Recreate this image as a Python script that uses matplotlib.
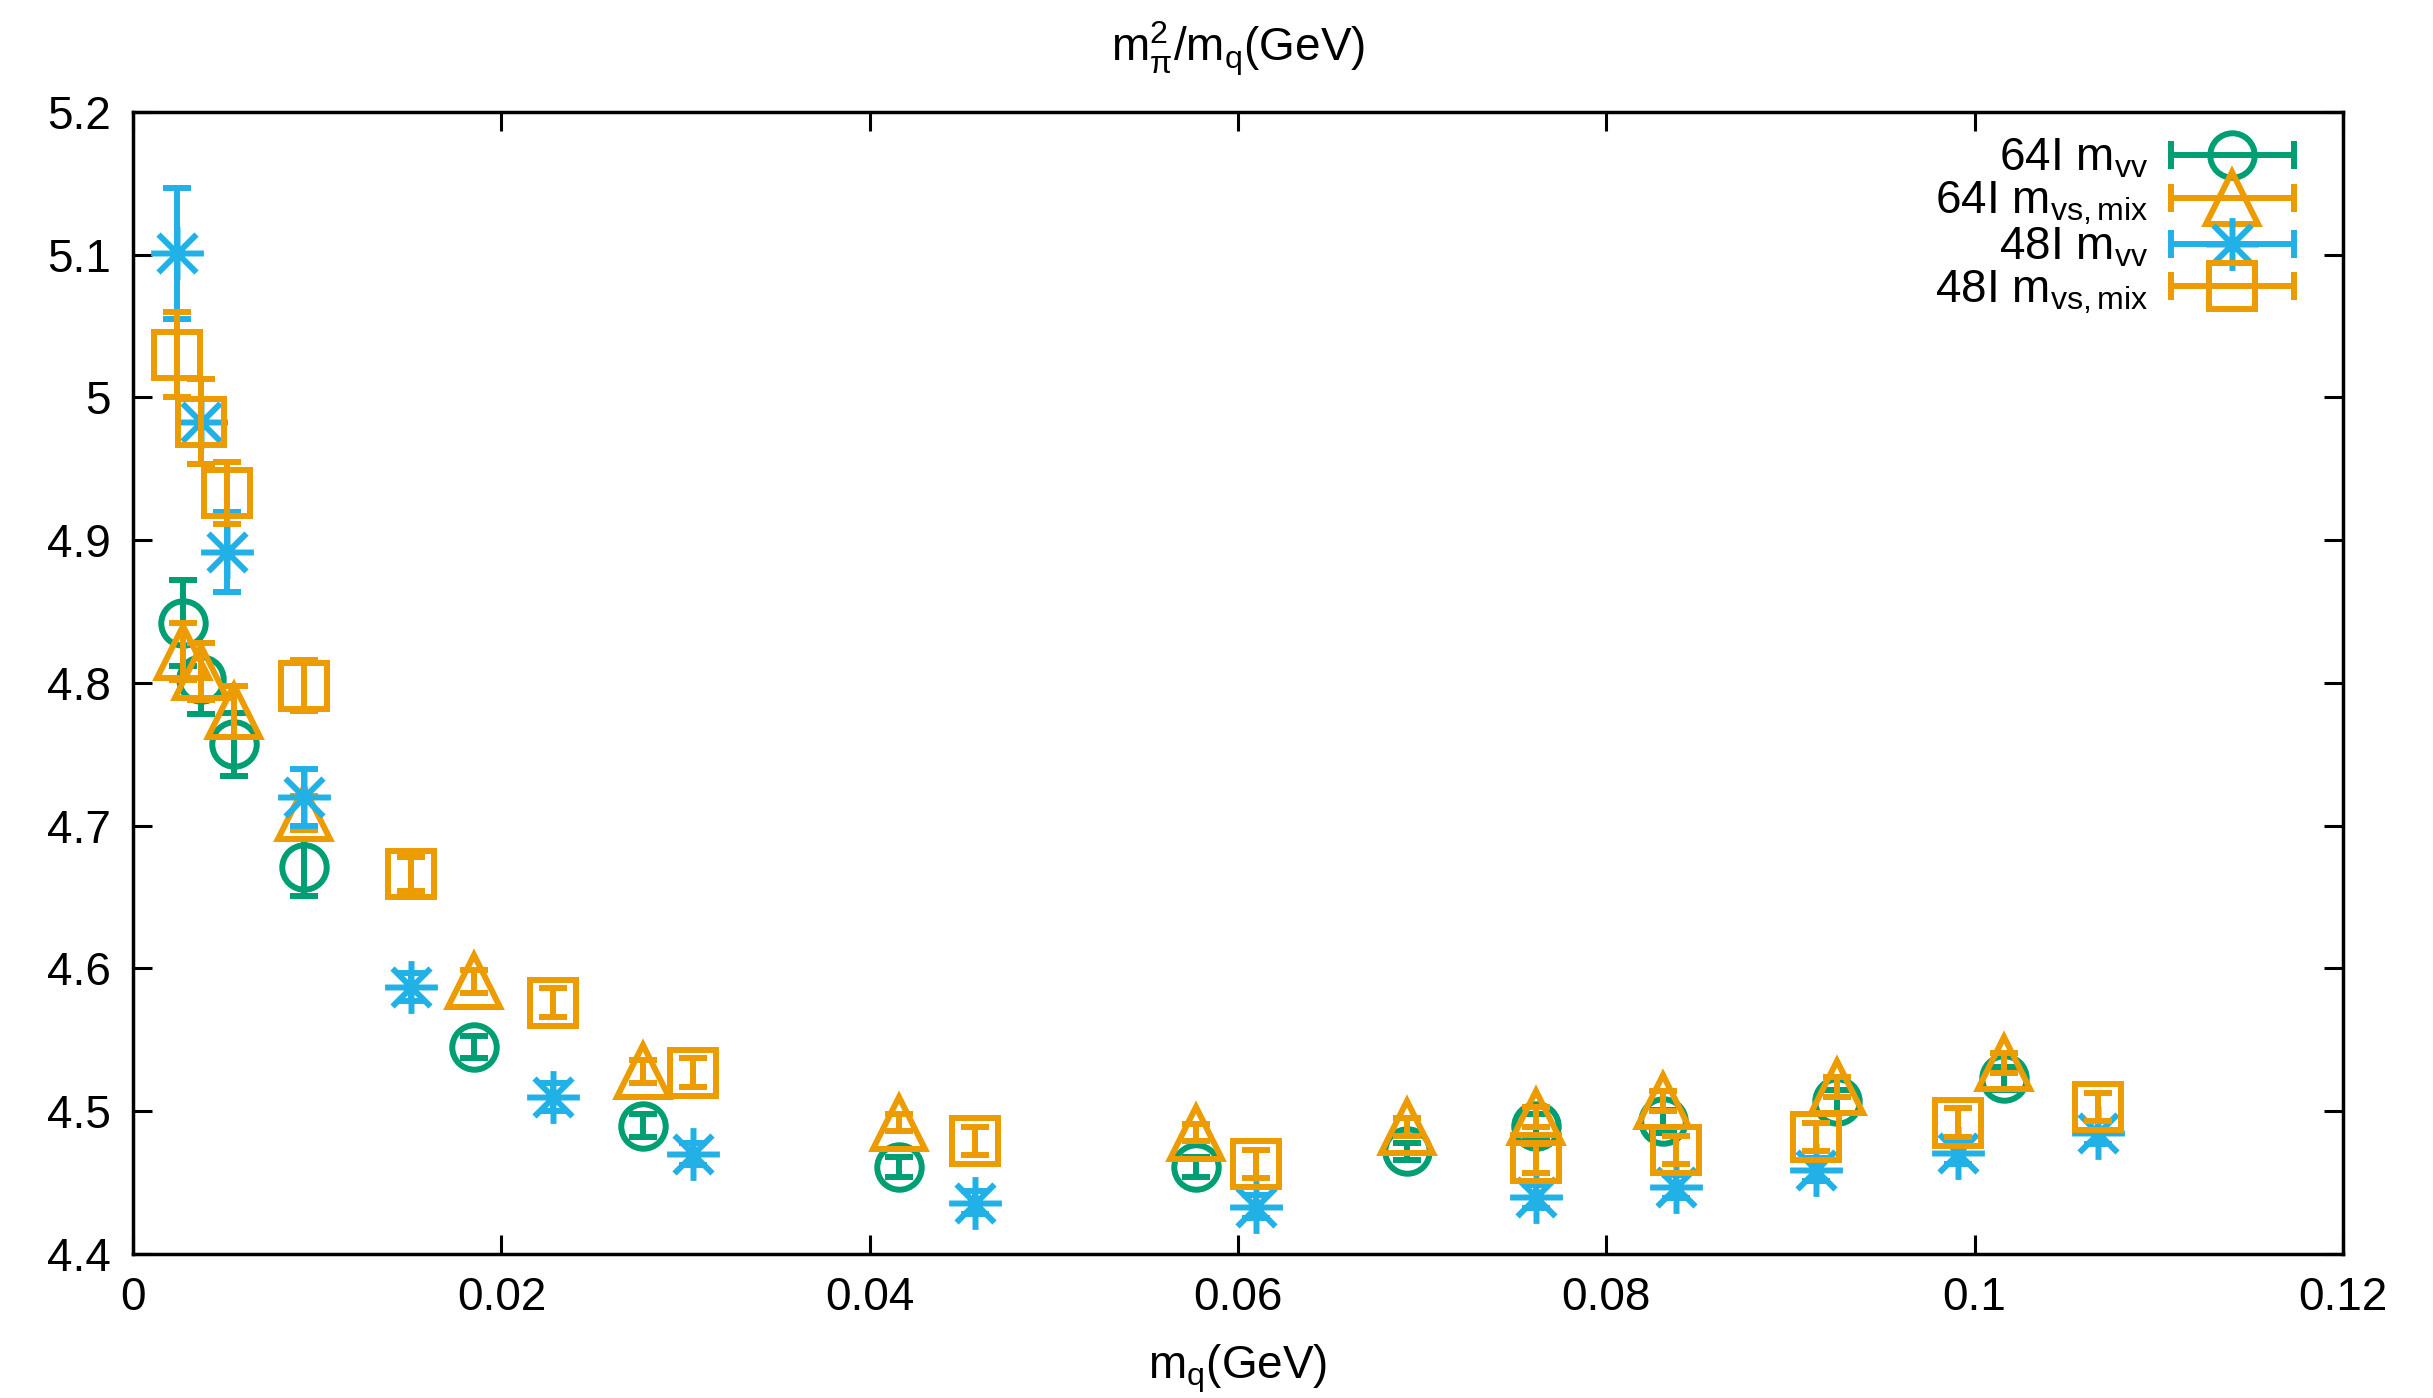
import numpy as np
import matplotlib
matplotlib.use("Agg")
import matplotlib.pyplot as plt
from matplotlib.path import Path
from matplotlib.lines import Line2D
from matplotlib.legend_handler import HandlerLine2D, HandlerTuple
from matplotlib.ticker import FormatStrFormatter

plt.rcParams['font.family'] = ['Liberation Sans', 'DejaVu Sans']
plt.rcParams['mathtext.fontset'] = 'custom'
plt.rcParams['mathtext.rm'] = 'Liberation Sans'
plt.rcParams['mathtext.it'] = 'Liberation Sans:italic'
plt.rcParams['mathtext.bf'] = 'Liberation Sans:bold'

# 64I ensemble
x_64 = [0.0027, 0.0037, 0.0055, 0.0093, 0.0185, 0.0277, 0.0416, 0.0577,
        0.0692, 0.0762, 0.0831, 0.0925, 0.1016]
vv_64 = [4.842, 4.803, 4.757, 4.671, 4.545, 4.490, 4.461, 4.461,
         4.472, 4.490, 4.493, 4.507, 4.523]
vv_64_err = [0.030, 0.025, 0.022, 0.020, 0.008, 0.008, 0.007, 0.007,
             0.006, 0.008, 0.008, 0.008, 0.008]
vs_64 = [4.822, 4.808, 4.780, 4.709, 4.591, 4.528, 4.492, 4.485,
         4.489, 4.496, 4.507, 4.517, 4.534]
vs_64_err = [0.020, 0.020, 0.018, 0.012, 0.008, 0.008, 0.006, 0.006,
             0.006, 0.007, 0.007, 0.007, 0.007]

# 48I ensemble
x_48 = [0.0024, 0.0037, 0.0051, 0.0093, 0.0151, 0.0228, 0.0304, 0.0457,
        0.0610, 0.0762, 0.0838, 0.0914, 0.0991, 0.1067]
vv_48 = [5.101, 4.983, 4.892, 4.720, 4.587, 4.510, 4.470, 4.436,
         4.433, 4.440, 4.447, 4.459, 4.471, 4.485]
vv_48_err = [0.046, 0.030, 0.028, 0.020, 0.010, 0.010, 0.008, 0.008,
             0.008, 0.008, 0.008, 0.008, 0.008, 0.008]
vs_48 = [5.030, 4.983, 4.933, 4.798, 4.666, 4.576, 4.527, 4.479,
         4.463, 4.467, 4.473, 4.482, 4.492, 4.503]
vs_48_err = [0.030, 0.030, 0.022, 0.018, 0.012, 0.010, 0.010, 0.010,
             0.010, 0.010, 0.010, 0.010, 0.010, 0.010]

labels = [r'64I m$_{\rm vv}$', r'64I m$_{\rm vs,mix}$',
          r'48I m$_{\rm vv}$', r'48I m$_{\rm vs,mix}$']

GREEN = '#009E73'
ORANGE = '#EC9C00'
CYAN = '#22B1E6'

# gnuplot style asterisk: + and x overlaid
star = Path([(-1, 0), (1, 0), (0, -1), (0, 1),
             (-0.72, -0.72), (0.72, 0.72), (-0.72, 0.72), (0.72, -0.72)],
            [Path.MOVETO, Path.LINETO] * 4)

series = [
    (x_64, vv_64, vv_64_err, GREEN, 'o', 32),
    (x_64, vs_64, vs_64_err, ORANGE, '^', 37),
    (x_48, vv_48, vv_48_err, CYAN, star, 38),
    (x_48, vs_48, vs_48_err, ORANGE, 's', 33),
]

fig = plt.figure(figsize=(24.33, 13.98), dpi=100)
ax = fig.add_axes([0.0547, 0.103, 0.9083, 0.817])

lw = 4.3
handles = []
hmap = {tuple: HandlerTuple(ndivide=1, pad=0)}
for (x, y, e, c, m, ms), lab in zip(series, labels):
    ax.errorbar(x, y, yerr=e, fmt='none', ecolor=c, elinewidth=lw,
                capsize=10, capthick=lw)
    ax.plot(x, y, ls='none', marker=m, ms=ms, mfc='none', mec=c, mew=lw)
    cap_h = Line2D([], [], color=c, lw=lw, marker='|', ms=20, mew=lw)
    mk_h = Line2D([], [], ls='none', marker=m, ms=ms, mfc='none', mec=c, mew=lw)
    hmap[cap_h] = HandlerLine2D(numpoints=2, marker_pad=0.0)
    hmap[mk_h] = HandlerLine2D(numpoints=1)
    handles.append((cap_h, mk_h))

ax.set_xlim(0, 0.12)
ax.set_ylim(4.4, 5.2)
ax.set_xticks(np.arange(0, 0.1201, 0.02))
ax.set_yticks(np.arange(4.4, 5.2001, 0.1))
ax.xaxis.set_major_formatter(FormatStrFormatter('%g'))
ax.yaxis.set_major_formatter(FormatStrFormatter('%g'))
ax.tick_params(direction='in', top=True, right=True, length=14, width=2.2,
               labelsize=33, pad=16)
for s in ax.spines.values():
    s.set_linewidth(2.5)

ax.set_title(r'm$_{\rm π}^{2}$/m$_{\rm q}$(GeV)', fontsize=33, pad=36)
ax.set_xlabel(r'm$_{\rm q}$(GeV)', fontsize=33, labelpad=16)

ax.legend(handles, labels, handler_map=hmap, loc='upper right',
          bbox_to_anchor=(0.978, 0.978), frameon=False, markerfirst=False,
          fontsize=33, handlelength=2.7, labelspacing=-0.03,
          handletextpad=0.5, borderpad=0.0, borderaxespad=0.0)

fig.savefig('out.png', dpi=100)
